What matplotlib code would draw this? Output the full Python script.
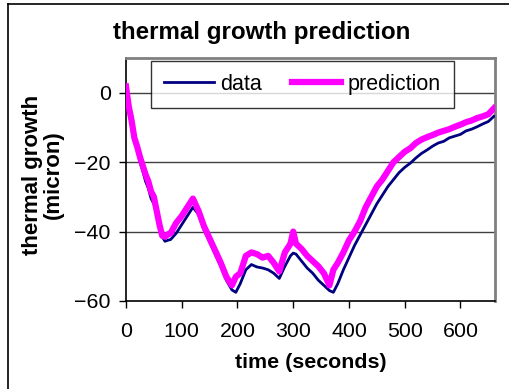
import matplotlib
matplotlib.use("Agg")
import matplotlib.pyplot as plt
from matplotlib.lines import Line2D

plt.rcParams['font.family'] = ['Liberation Sans', 'DejaVu Sans']

time_s = [0, 5, 10, 15, 20, 25, 30, 35, 40, 45, 50, 55, 60, 65, 70, 75, 80, 90, 100, 110, 120,
          130, 140, 150, 160, 170, 180, 190, 197, 205, 215, 225, 235, 245, 255, 265, 275,
          285, 295, 300, 305, 315, 325, 335, 345, 355, 365, 372, 380, 390, 400, 410, 420,
          430, 440, 450, 460, 470, 480, 490, 500, 510, 520, 530, 540, 550, 560, 570, 580,
          590, 600, 610, 620, 630, 640, 650, 660]

data = [0.5, -4.5, -9, -13.5, -16.5, -20, -22.5, -25.5, -27.5, -30.5, -32, -35, -39, -41.5, -42.8,
        -42.5, -42.3, -40.5, -38, -35.5, -33, -35, -39.5, -43, -46.5, -50, -54, -56.8, -57.5,
        -55, -51, -49.5, -50.2, -50.5, -51, -52, -53.5, -50, -47, -46.2, -46.5, -48.5, -50.5,
        -52, -54, -55.5, -57, -57.5, -55, -51, -47.5, -44, -41, -38, -35, -32, -29.5, -27,
        -25, -23, -21.5, -20.3, -18.8, -17.5, -16.5, -15.4, -14.5, -14, -13, -12.5, -12,
        -11, -10.5, -9.8, -9, -8.3, -6.8]

prediction = [1.8, -4, -8, -13, -15.5, -18.5, -21, -23.5, -25.5, -28.5, -30, -34, -38, -41.2,
              -41.5, -40.8, -40.5, -37.5, -35.5, -33, -30.5, -34, -38.5, -42, -45.5, -49, -53,
              -55.5, -53, -52, -47, -46, -46.5, -47.5, -47, -49, -51.5, -46, -43.5, -40, -43.5,
              -45, -47, -48.5, -50, -52, -55.5, -51, -49, -46, -42.5, -40, -37, -33, -30, -27,
              -25, -22.5, -20, -18.5, -17, -16, -14.5, -13.5, -12.8, -12.2, -11.5, -11, -10.5,
              -9.8, -9.2, -8.5, -8, -7.3, -6.8, -6.2, -4.5]

x_ticks = [0, 100, 200, 300, 400, 500, 600]
y_ticks = [-60, -40, -20, 0]

fig = plt.figure(figsize=(5.09, 3.89), dpi=100)
ax = fig.add_axes([126/509, 1-301/389, (495-126)/509, (301-58)/389])

for yv in [-40, -20, 0]:
    ax.axhline(yv, color='#404040', lw=1.0, zorder=1)

ax.plot(time_s, data, color='#000080', lw=2.0, label='data', zorder=3)
ax.plot(time_s, prediction, color='#FF00FF', lw=4.5, label='prediction', zorder=4)

ax.set_xlim(0, 662)
ax.set_ylim(-60, 10)
ax.set_xticks(x_ticks)
ax.set_yticks(y_ticks)
ax.tick_params(axis='both', labelsize=15.4, length=5, width=1, direction='out', color='black')
ax.tick_params(axis='x', pad=10)
ax.tick_params(axis='y', pad=6)

ax.spines['left'].set_color('black')
ax.spines['bottom'].set_color('black')
ax.spines['left'].set_linewidth(1.2)
ax.spines['bottom'].set_linewidth(1.2)
ax.spines['top'].set_color('#808080')
ax.spines['right'].set_color('#808080')
ax.spines['top'].set_linewidth(2)
ax.spines['right'].set_linewidth(2)

ax.set_xlabel('time (seconds)', fontsize=15.4, fontweight='bold', labelpad=9)
fig.text(43/509, 1-175/389, 'thermal growth\n(micron)', rotation=90, fontsize=16,
         fontweight='bold', ha='center', va='center', linespacing=1.0)
fig.text(262/509, 1-33/389, 'thermal growth prediction', fontsize=17.4, fontweight='bold',
         ha='center', va='center')

leg = ax.legend(loc='upper left', bbox_to_anchor=(0.068, 0.988), ncol=2, fontsize=15.5,
                frameon=True, fancybox=False, shadow=False, handlelength=2.3,
                handletextpad=0.3, columnspacing=1.4, borderpad=0.6, borderaxespad=0)
leg.get_frame().set_edgecolor('black')
leg.get_frame().set_linewidth(1.0)
leg.set_zorder(5)

# outer chart border (left and top visible)
fig.add_artist(Line2D([8/509, 8/509], [0, 1-4/389], color='black', lw=1.2, transform=fig.transFigure))
fig.add_artist(Line2D([8/509, 1], [1-4/389, 1-4/389], color='black', lw=1.2, transform=fig.transFigure))

fig.savefig('out.png', dpi=100)
